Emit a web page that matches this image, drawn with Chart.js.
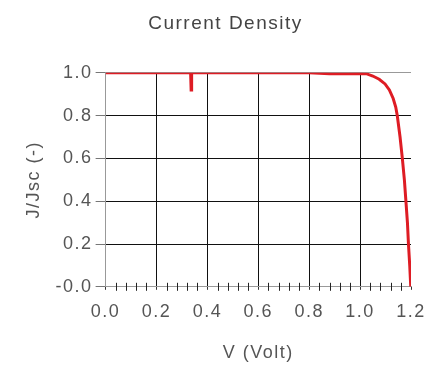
<!DOCTYPE html>
<html>
<head>
<meta charset="utf-8">
<script src="https://cdn.jsdelivr.net/npm/chart.js@4.4.1/dist/chart.umd.min.js"></script>
<style>
  html, body { margin: 0; padding: 0; background: #fff; }
  #wrap { width: 432px; height: 374px; }
</style>
</head>
<body>
<div id="wrap"><canvas id="jv"></canvas></div>
<script>
// normalised J-V curve
const voltage = [0, 0.1, 0.2, 0.3, 0.334, 0.336, 0.338, 0.4, 0.5, 0.6, 0.7, 0.8, 0.88, 0.95, 1.0, 1.024,
    1.05, 1.075, 1.098, 1.115, 1.13, 1.14, 1.146, 1.157, 1.166, 1.174, 1.18, 1.186, 1.19, 1.195, 1.199];
const currentNorm = [1, 1, 1, 1, 1, 0.92, 1, 1, 1, 1, 1, 1, 0.996, 0.996, 0.997, 0.996,
    0.985, 0.97, 0.948, 0.92, 0.88, 0.84, 0.8, 0.7, 0.6, 0.5, 0.4, 0.3, 0.2, 0.1, 0];
const xTicks = [0, 0.2, 0.4, 0.6, 0.8, 1.0, 1.2];
const xTickLabels = ['0.0', '0.2', '0.4', '0.6', '0.8', '1.0', '1.2'];
const yTicks = [0, 0.2, 0.4, 0.6, 0.8, 1.0];
const yTickLabels = ['-0.0', '0.2', '0.4', '0.6', '0.8', '1.0'];
const minorStep = 0.04;

const font = 'Liberation Sans, Arial, sans-serif';
const textColor = '#555';

// the original text is set a little loose
const spacing = {
    id: 'spacing',
    beforeUpdate (chart) { chart.ctx.letterSpacing = '1.5px'; },
    beforeDraw (chart) { chart.ctx.letterSpacing = '1.5px'; }
};

// small crossing ticks along the bottom axis
const minorTicks = {
    id: 'minorTicks',
    afterDatasetsDraw (chart) {
        const ctx = chart.ctx;
        const xs = chart.scales.x;
        const y0 = chart.scales.y.getPixelForValue(0);
        ctx.save();
        ctx.strokeStyle = '#222';
        ctx.lineWidth = 1;
        for (let i = 1; i * minorStep < 1.2 - 1e-6; i++) {
            if (i % 5 === 0) continue;
            const px = Math.round(xs.getPixelForValue(i * minorStep)) + 0.5;
            ctx.beginPath();
            ctx.moveTo(px, y0 - 4);
            ctx.lineTo(px, y0 + 4);
            ctx.stroke();
        }
        ctx.restore();
    }
};

new Chart(document.getElementById('jv'), {
    type: 'scatter',
    data: {
        datasets: [{
            data: voltage.map((v, i) => ({ x: v, y: currentNorm[i] })),
            showLine: true,
            borderColor: 'rgb(222, 28, 36)',
            borderWidth: 3,
            pointRadius: 0,
            tension: 0
        }]
    },
    options: {
        responsive: true,
        maintainAspectRatio: false,
        animation: false,
        layout: { padding: { left: 19, right: 0, top: 10, bottom: 6 } },
        plugins: {
            legend: { display: false },
            tooltip: { enabled: false },
            title: {
                display: true,
                text: 'Current Density',
                color: '#444',
                font: { family: font, size: 19, weight: 'normal' },
                padding: { top: 2, bottom: 38 }
            }
        },
        scales: {
            x: {
                type: 'linear',
                min: 0,
                max: 1.2,
                afterBuildTicks: (scale) => { scale.ticks = xTicks.map(v => ({ value: v })); },
                // label gap below the axis should not widen the right margin
                afterFit: (scale) => { scale.paddingRight = 21; },
                ticks: {
                    color: textColor,
                    font: { family: font, size: 18 },
                    padding: 11,
                    maxRotation: 0,
                    callback: (v) => xTickLabels[xTicks.findIndex(t => Math.abs(t - v) < 1e-6)]
                },
                grid: {
                    color: (c) => (c.tick.value === 0 || c.tick.value === 1.2) ? 'rgba(0,0,0,0)' : '#111',
                    tickColor: '#333',
                    tickLength: 3
                },
                border: { color: '#999' },
                title: {
                    display: true,
                    text: 'V (Volt)',
                    color: textColor,
                    font: { family: font, size: 18 },
                    padding: { top: 9 }
                }
            },
            y: {
                min: 0,
                max: 1.0,
                afterBuildTicks: (scale) => { scale.ticks = yTicks.map(v => ({ value: v })); },
                ticks: {
                    color: textColor,
                    font: { family: font, size: 18 },
                    padding: 3,
                    callback: (v) => yTickLabels[yTicks.findIndex(t => Math.abs(t - v) < 1e-6)]
                },
                grid: {
                    color: (c) => (c.tick.value === 0 || c.tick.value === 1) ? '#999' : '#111',
                    tickColor: '#777',
                    tickLength: 10
                },
                border: { color: '#999' },
                title: {
                    display: true,
                    text: 'J/Jsc (-)',
                    color: textColor,
                    font: { family: font, size: 18 },
                    padding: { bottom: 8 }
                }
            }
        }
    },
    plugins: [spacing, minorTicks]
});
</script>
</body>
</html>
